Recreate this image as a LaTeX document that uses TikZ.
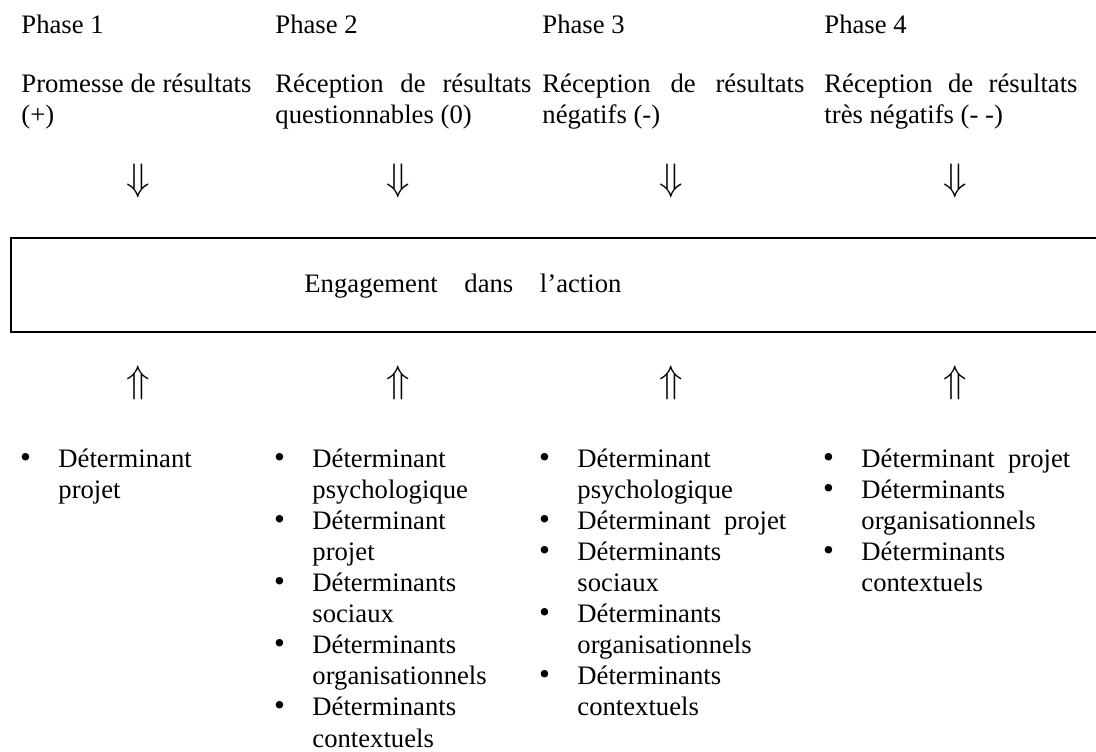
\documentclass[tikz,border=0pt]{standalone}
\usepackage{fontspec}
\setmainfont{Liberation Serif}
\tolerance=10000
\hyphenpenalty=10000
\newcommand{\txt}{\fontsize{12}{14}\selectfont}
\newcommand{\puce}{\noindent\llap{{\fontsize{14}{14}\selectfont\textbullet}\hspace{12.3pt}}}

\begin{document}
\begin{tikzpicture}[
    x=0.45pt, y=-0.45pt,
    phase/.style={anchor=base west, inner sep=0pt, font=\txt},
    etape/.style={anchor=base west, inner sep=0pt, font=\txt,
                  text width=#1, align=justify},
    puces/.style={anchor=base west, inner sep=0pt, font=\txt,
                  text width=#1, align=left},
    fl/.style={inner sep=0pt, font=\fontsize{17}{17}\selectfont},
    cadre/.style={draw, line width=0.8pt},
]
\clip (0,0) rectangle (1096,751);

% phases
\node[phase] (ph1) at (21,33)  {Phase 1};
\node[phase] (ph2) at (275,33) {Phase 2};
\node[phase] (ph3) at (542,33) {Phase 3};
\node[phase] (ph4) at (824,33) {Phase 4};

\node[etape=103.5pt] (res1) at (21,92)  {Promesse de résultats (+)};
\node[etape=115.2pt] (res2) at (275,92) {Réception de résultats questionnables (0)};
\node[etape=117.9pt] (res3) at (542,92) {Réception de résultats négatifs (-)};
\node[etape=113.9pt] (res4) at (824,92) {Réception de résultats très négatifs (- -)};

\node[fl] (bas1) at (138,181) {$\Downarrow$};
\node[fl] (bas2) at (398,181) {$\Downarrow$};
\node[fl] (bas3) at (671,181) {$\Downarrow$};
\node[fl] (bas4) at (955,181) {$\Downarrow$};

% engagement
\draw[cadre] (11,238) rectangle (1110,332);
\node[phase] (engag) at (304,292) {Engagement\quad dans\quad l’action};

\node[fl] (haut1) at (138,383) {$\Uparrow$};
\node[fl] (haut2) at (398,383) {$\Uparrow$};
\node[fl] (haut3) at (671,383) {$\Uparrow$};
\node[fl] (haut4) at (955,383) {$\Uparrow$};

% determinants
\node[puces=85.5pt] (det1) at (58,467)
    {\puce Déterminant projet};
\node[puces=85.5pt] (det2) at (312,467)
    {\puce Déterminant psychologique\\
     \puce Déterminant projet\\
     \puce Déterminants sociaux\\
     \puce Déterminants organisationnels\\
     \puce Déterminants contextuels};
\node[puces=95.4pt] (det3) at (577,467)
    {\puce Déterminant psychologique\\
     \puce Déterminant\enspace projet\\
     \puce Déterminants sociaux\\
     \puce Déterminants organisationnels\\
     \puce Déterminants contextuels};
\node[puces=95.4pt] (det4) at (861,467)
    {\puce Déterminant\enspace projet\\
     \puce Déterminants organisationnels\\
     \puce Déterminants contextuels};
\end{tikzpicture}
\end{document}
